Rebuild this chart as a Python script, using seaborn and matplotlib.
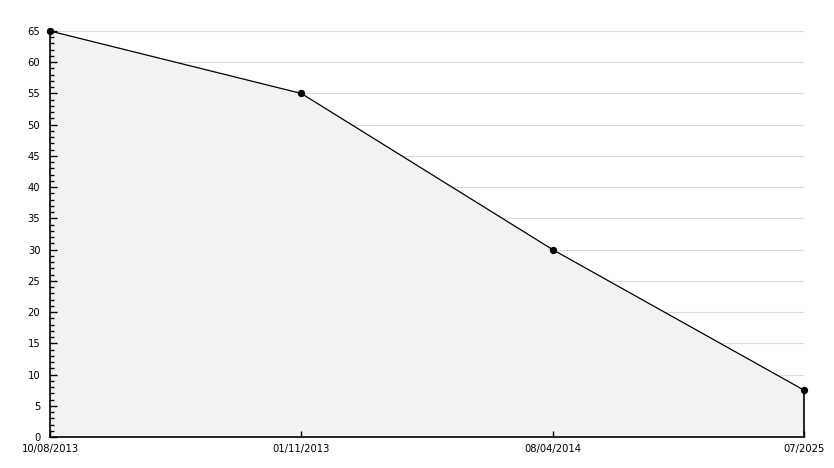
import matplotlib
matplotlib.use("Agg")
import matplotlib.pyplot as plt
import seaborn as sns
import pandas as pd
import numpy as np
from matplotlib.ticker import MultipleLocator

categories = ["10/08/2013", "01/11/2013", "08/04/2014", "07/2025"]
values = [65, 55, 30, 7.5]

sns.set_style("white")
plt.rcParams['font.family'] = ['DejaVu Sans']

df = pd.DataFrame({"x": np.arange(len(categories)), "y": values})

fig = plt.figure(figsize=(8.34, 4.68), dpi=100)
ax = fig.add_axes([50/834, 31/468, 754/834, 406/468])
ax.set_axisbelow(False)

# gridlines
for yv in range(5, 70, 5):
    ax.axhline(yv, color="#dcdcdc", lw=0.8, zorder=0)

ax.fill_between(df["x"], df["y"], 0, facecolor="#f2f2f2", edgecolor="none", zorder=1)
sns.lineplot(data=df, x="x", y="y", ax=ax, color="black", lw=0.9, zorder=6,
             marker="o", markersize=4.5, markeredgecolor="black", markerfacecolor="black",
             clip_on=False)
ax.vlines(df["x"].iloc[-1], 0, df["y"].iloc[-1], color="black", lw=1.2, zorder=3, clip_on=False)

ax.set_xlim(0, len(categories) - 1)
ax.set_ylim(0, 65)
ax.set_xticks(df["x"])
ax.set_xticklabels(categories)
ax.yaxis.set_major_locator(MultipleLocator(5))
ax.yaxis.set_minor_locator(MultipleLocator(1))
ax.tick_params(axis="y", which="major", direction="in", length=5, width=1, labelsize=7.2, pad=7,
               left=True, color="black", labelcolor="black")
ax.tick_params(axis="y", which="minor", direction="in", length=3, width=1, left=True, color="black")
ax.tick_params(axis="x", which="major", direction="in", length=4, width=1, labelsize=7.2, pad=5,
               bottom=True, color="black", labelcolor="black")
ax.set_xlabel("")
ax.set_ylabel("")
for s in ["top", "right"]:
    ax.spines[s].set_visible(False)
for s in ["left", "bottom"]:
    ax.spines[s].set_color("black")
    ax.spines[s].set_linewidth(1.2)
    ax.spines[s].set_zorder(4)
ax.patch.set_alpha(0)
ax.xaxis.set_zorder(5)
ax.yaxis.set_zorder(5)

fig.savefig("out.png", dpi=100)
